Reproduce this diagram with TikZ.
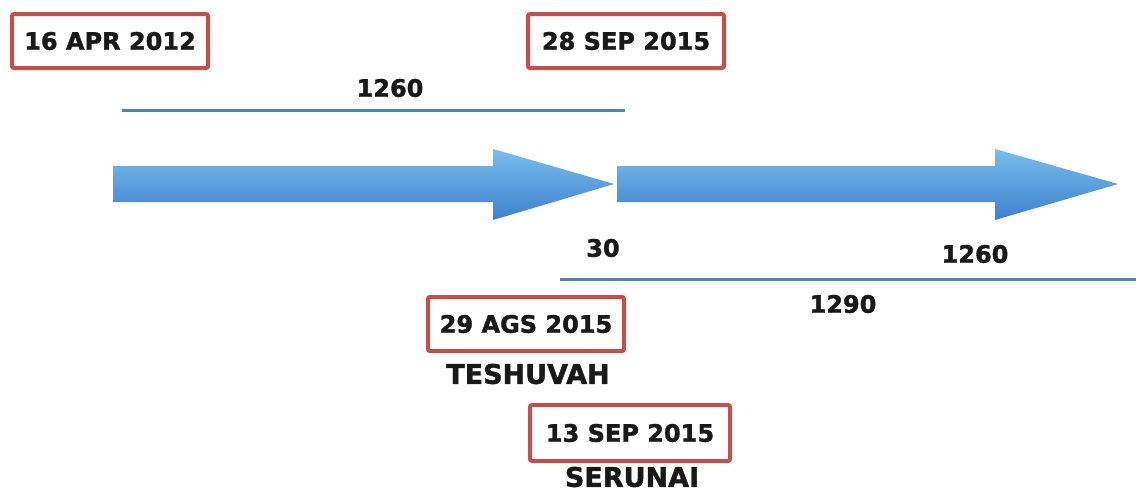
\documentclass[tikz,border=0pt]{standalone}
\usepackage{fontspec}
\setmainfont{DejaVu Sans}[BoldFeatures={FakeBold=1.5}]

\definecolor{boxred}{RGB}{192,80,77}
\definecolor{spanblue}{RGB}{79,129,189}
\definecolor{arrowtop}{RGB}{120,190,236}
\definecolor{arrowbot}{RGB}{62,128,206}
\definecolor{ink}{RGB}{25,25,25}

\tikzset{
  datebox/.style={draw=boxred, line width=4pt, rounded corners=2pt, fill=white,
    minimum width=196pt, minimum height=54pt, inner sep=0pt, text=ink,
    font=\fontsize{24}{24}\selectfont\bfseries},
  numlabel/.style={text=ink, inner sep=0pt, font=\fontsize{24}{24}\selectfont\bfseries},
  namelabel/.style={text=ink, inner sep=0pt, font=\fontsize{27}{27}\selectfont\bfseries},
  span/.style={spanblue, line width=3pt},
}

\begin{document}
\begin{tikzpicture}[x=1pt, y=-1pt]
    \useasboundingbox (0,0) rectangle (1136,493);

    % the two big arrows
    \foreach \xa/\xb/\xc in {113/493/614, 617/995/1118}
        \shade[top color=arrowtop, bottom color=arrowbot]
            (\xa,166) -- (\xb,166) -- (\xb,149) -- (\xc,184) -- (\xb,220) -- (\xb,202) -- (\xa,202) -- cycle;

    % spans
    \coordinate (topA) at (122,110);
    \coordinate (topB) at (625,110);
    \draw[span] (topA) -- (topB);
    \node[numlabel] (n1260a) at (390,88) {1260};

    \coordinate (botA) at (560,279);
    \coordinate (botB) at (1136,279);
    \draw[span] (botA) -- (botB);
    \node[numlabel] (n30) at (603,248) {30};
    \node[numlabel] (n1260b) at (975,254) {1260};
    \node[numlabel] (n1290) at (843,304) {1290};

    % dates
    \node[datebox] (apr) at (110,41) {16 APR 2012};
    \node[datebox] (sep28) at (626,41) {28 SEP 2015};
    \node[datebox] (ags) at (526,324) {29 AGS 2015};
    \node[namelabel] (tesh) at (528,374) {TESHUVAH};
    \node[datebox, minimum width=200pt, minimum height=56pt] (sep13) at (630,433) {13 SEP 2015};
    \node[namelabel] (serunai) at (632,477) {SERUNAI};

\end{tikzpicture}
\end{document}
